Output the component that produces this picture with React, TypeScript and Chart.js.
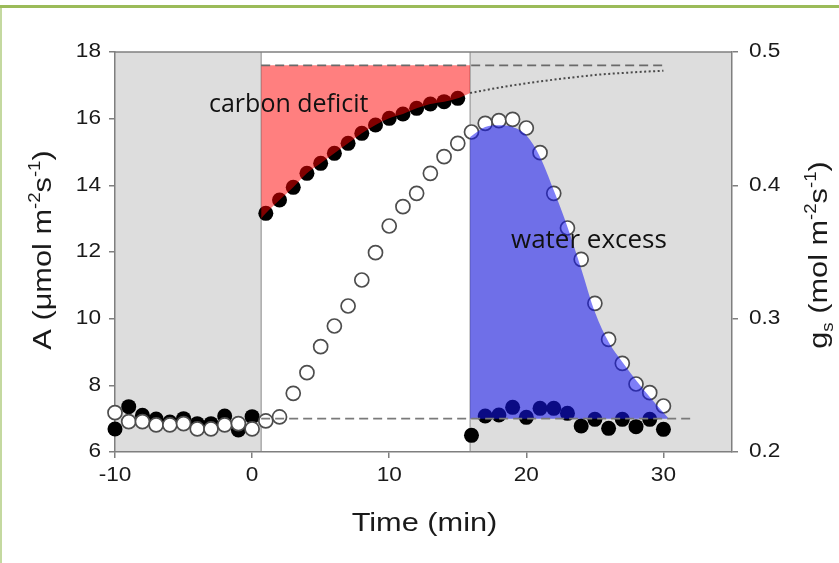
import React, { useEffect, useRef } from 'react';
import { Chart, registerables } from 'chart.js';

Chart.register(...registerables);

// ---- data ----
const timeMin = [-10, -9, -8, -7, -6, -5, -4, -3, -2, -1, 0, 1, 2, 3, 4, 5, 6, 7, 8, 9, 10, 11, 12, 13, 14, 15, 16, 17, 18, 19, 20, 21, 22, 23, 24, 25, 26, 27, 28, 29, 30];
// net assimilation A (µmol m-2 s-1), filled circles
const assimilation = [6.69, 7.36, 7.1, 6.99, 6.9, 7.0, 6.85, 6.85, 7.08, 6.66, 7.06, 13.16, 13.56, 13.94, 14.36, 14.66, 14.96, 15.26, 15.56, 15.81, 16.01, 16.14, 16.31, 16.44, 16.51, 16.61, 6.5, 7.08, 7.11, 7.34, 7.04, 7.31, 7.31, 7.16, 6.78, 6.98, 6.71, 6.98, 6.76, 6.98, 6.68];
// stomatal conductance gs (mol m-2 s-1), open circles
const conductance = [0.2295, 0.2228, 0.2228, 0.2203, 0.2203, 0.2213, 0.2173, 0.2173, 0.2203, 0.2213, 0.2173, 0.2233, 0.2263, 0.244, 0.2595, 0.279, 0.2945, 0.3095, 0.329, 0.3495, 0.3695, 0.384, 0.394, 0.409, 0.4215, 0.4315, 0.44, 0.4465, 0.4485, 0.4495, 0.443, 0.4245, 0.394, 0.368, 0.3445, 0.3115, 0.2845, 0.2665, 0.251, 0.2445, 0.2345];

const lightOnT = 0.66;
const lightOffT = 15.9;
const aSteadyState = 17.6;
const aBaseline = 7.0;
const gsBaseline = 0.225;
const steadyDashEndT = 30;
const baselineDashEndT = 32;

// fitted induction curve bounding the carbon deficit
const deficitEdgeT = [0.66, 1, 2, 3, 4, 5, 6, 7, 8, 9, 10, 11, 12, 13, 14, 15, 15.9];
const deficitEdgeA = [13.0, 13.16, 13.56, 13.94, 14.36, 14.66, 14.96, 15.26, 15.56, 15.81, 16.01, 16.14, 16.31, 16.44, 16.51, 16.61, 16.77];
// projected continuation of the induction curve (dotted)
const projectionT = [15.9, 18, 20, 22, 25, 27, 30];
const projectionA = [16.77, 16.93, 17.06, 17.17, 17.31, 17.37, 17.44];
// fitted gs decline bounding the water excess
const excessEdgeT = [15.9, 17, 18, 19, 20, 21, 22, 23, 24, 25, 26, 27, 28, 29, 30.4];
const excessEdgeGs = [0.43625, 0.44375, 0.445, 0.44375, 0.4375, 0.42125, 0.39625, 0.36875, 0.3375, 0.305, 0.2825, 0.2675, 0.25375, 0.24125, 0.225];

const xTicks = [-10, 0, 10, 20, 30];
const yTicks = [6, 8, 10, 12, 14, 16, 18];
const y1Ticks = [0.2, 0.3, 0.4, 0.5];
const y1TickLabels = ['0.2', '0.3', '0.4', '0.5'];

// ---- styling ----
const AXIS_GRAY = '#7f7f7f';
const PANEL_GRAY = '#dddddd';
const TEXT = '#1a1a1a';
const SANS = '"Liberation Sans", Arial, sans-serif';
const STRETCH = 1.16;

type Seg = { t: string; size: number; dy: number };

function drawRich(ctx: CanvasRenderingContext2D, segs: Seg[], cx: number, cy: number, rot: number, sx: number) {
  ctx.save();
  ctx.translate(cx, cy);
  ctx.rotate(rot);
  ctx.scale(sx, 1);
  ctx.fillStyle = TEXT;
  ctx.textAlign = 'left';
  ctx.textBaseline = 'alphabetic';
  let total = 0;
  const widths = segs.map((s) => {
    ctx.font = `${s.size}px ${SANS}`;
    const w = ctx.measureText(s.t).width;
    total += w;
    return w;
  });
  let x = -total / 2;
  segs.forEach((s, i) => {
    ctx.font = `${s.size}px ${SANS}`;
    ctx.fillText(s.t, x, s.dy);
    x += widths[i];
  });
  ctx.restore();
}

function drawStretched(ctx: CanvasRenderingContext2D, text: string, x: number, y: number, align: CanvasTextAlign, baseline: CanvasTextBaseline, size: number) {
  ctx.save();
  ctx.translate(x, y);
  ctx.scale(STRETCH, 1);
  ctx.font = `${size}px ${SANS}`;
  ctx.fillStyle = TEXT;
  ctx.textAlign = align;
  ctx.textBaseline = baseline;
  ctx.fillText(text, 0, 0);
  ctx.restore();
}

const backgroundPlugin = {
  id: 'panels',
  beforeDraw(chart: any) {
    const { ctx, chartArea } = chart;
    const x = chart.scales.x;
    const { top, bottom, left, right } = chartArea;
    const xOn = x.getPixelForValue(lightOnT);
    const xOff = x.getPixelForValue(lightOffT);
    ctx.save();
    ctx.fillStyle = PANEL_GRAY;
    ctx.fillRect(left, top, xOn - left, bottom - top);
    ctx.fillRect(xOff, top, right - xOff, bottom - top);
    ctx.strokeStyle = '#9a9a9a';
    ctx.lineWidth = 1.2;
    ctx.beginPath();
    ctx.moveTo(xOn, top);
    ctx.lineTo(xOn, bottom);
    ctx.moveTo(xOff, top);
    ctx.lineTo(xOff, bottom);
    ctx.stroke();
    ctx.strokeStyle = AXIS_GRAY;
    ctx.lineWidth = 1.5;
    ctx.beginPath();
    ctx.moveTo(left, top);
    ctx.lineTo(right, top);
    ctx.stroke();
    ctx.restore();
  },
};

const textPlugin = {
  id: 'texts',
  afterDraw(chart: any) {
    const { ctx, chartArea } = chart;
    const sx = chart.scales.x;
    const sy = chart.scales.y;
    const sy1 = chart.scales.y1;
    xTicks.forEach((v) => drawStretched(ctx, String(v), sx.getPixelForValue(v), 481, 'center', 'alphabetic', 19.5));
    yTicks.forEach((v) => drawStretched(ctx, String(v), chartArea.left - 14, sy.getPixelForValue(v), 'right', 'middle', 19.5));
    y1Ticks.forEach((v, i) => drawStretched(ctx, y1TickLabels[i], chartArea.right + 17, sy1.getPixelForValue(v), 'left', 'middle', 19.5));

    const cxMid = (chartArea.left + chartArea.right) / 2;
    drawRich(ctx, [{ t: 'Time (min)', size: 26.5, dy: 0 }], cxMid + 1, 531, 0, STRETCH);
    const cyMid = (chartArea.top + chartArea.bottom) / 2;
    drawRich(
      ctx,
      [
        { t: 'A (\u03bcmol m', size: 26.5, dy: 0 },
        { t: '-2', size: 16, dy: -11 },
        { t: 's', size: 26.5, dy: 0 },
        { t: '-1', size: 16, dy: -11 },
        { t: ')', size: 26.5, dy: 0 },
      ],
      51,
      cyMid - 2,
      -Math.PI / 2,
      STRETCH
    );
    drawRich(
      ctx,
      [
        { t: 'g', size: 26.5, dy: 0 },
        { t: 's', size: 16, dy: 6 },
        { t: ' (mol m', size: 26.5, dy: 0 },
        { t: '-2', size: 16, dy: -11 },
        { t: 's', size: 26.5, dy: 0 },
        { t: '-1', size: 16, dy: -11 },
        { t: ')', size: 26.5, dy: 0 },
      ],
      827,
      cyMid + 3,
      -Math.PI / 2,
      STRETCH
    );

    ctx.save();
    ctx.fillStyle = '#111111';
    ctx.textAlign = 'left';
    ctx.textBaseline = 'alphabetic';
    ctx.font = '25px "Open Sans", sans-serif';
    ctx.fillText('carbon deficit', 209, 112);
    ctx.font = '26px "Open Sans", sans-serif';
    ctx.fillText('water excess', 511, 248);
    ctx.restore();
  },
};

function fixedTicks(values: number[]) {
  return (scale: any) => {
    scale.ticks = values.map((v) => ({ value: v }));
  };
}

const gridOpts = { drawOnChartArea: false, drawTicks: true, tickLength: 6, color: AXIS_GRAY, lineWidth: 1.5 };
const borderOpts = { display: true, color: AXIS_GRAY, width: 1.5 };

export default function App() {
  const ref = useRef<HTMLCanvasElement>(null);

  useEffect(() => {
    if (!ref.current) return;
    const pts = (xs: number[], ys: number[]) => xs.map((x, i) => ({ x, y: ys[i] }));
    const chart = new Chart(ref.current, {
      type: 'line',
      data: {
        datasets: [
          {
            label: 'carbon deficit',
            data: pts(deficitEdgeT, deficitEdgeA),
            yAxisID: 'y',
            borderWidth: 0,
            borderColor: 'rgba(0,0,0,0)',
            backgroundColor: 'rgba(255,0,0,0.5)',
            pointRadius: 0,
            cubicInterpolationMode: 'monotone',
            fill: { value: aSteadyState },
            order: 0,
          },
          {
            label: 'water excess',
            data: pts(excessEdgeT, excessEdgeGs),
            yAxisID: 'y1',
            borderWidth: 0,
            borderColor: 'rgba(0,0,0,0)',
            backgroundColor: 'rgba(20,20,240,0.55)',
            pointRadius: 0,
            cubicInterpolationMode: 'monotone',
            fill: { value: gsBaseline },
            order: 0,
          },
          {
            label: 'steady state',
            data: pts([lightOnT, steadyDashEndT], [aSteadyState, aSteadyState]),
            yAxisID: 'y',
            borderColor: '#6a6a6a',
            borderWidth: 1.8,
            borderDash: [9, 5],
            pointRadius: 0,
            fill: false,
            order: -1,
          },
          {
            label: 'baseline',
            data: pts([lightOnT, baselineDashEndT], [aBaseline, aBaseline]),
            yAxisID: 'y',
            borderColor: '#7a7a7a',
            borderWidth: 1.8,
            borderDash: [9, 5],
            pointRadius: 0,
            fill: false,
            order: -1,
          },
          {
            label: 'projection',
            data: pts(projectionT, projectionA),
            yAxisID: 'y',
            borderColor: '#4a4a4a',
            borderWidth: 2,
            borderDash: [2, 2.5],
            pointRadius: 0,
            cubicInterpolationMode: 'monotone',
            fill: false,
            order: -1,
          },
          {
            label: 'gs',
            data: pts(timeMin, conductance),
            yAxisID: 'y1',
            showLine: false,
            pointRadius: 7,
            pointBackgroundColor: '#ffffff',
            pointBorderColor: '#4d4d4d',
            pointBorderWidth: 1.7,
            clip: false,
            order: 1,
          },
          {
            label: 'A',
            data: pts(timeMin, assimilation),
            yAxisID: 'y',
            showLine: false,
            pointRadius: 7.5,
            pointBackgroundColor: '#000000',
            pointBorderColor: '#000000',
            pointBorderWidth: 0,
            clip: false,
            order: 2,
          },
        ] as any,
      },
      options: {
        responsive: false,
        animation: false,
        devicePixelRatio: 1,
        events: [],
        layout: { padding: { top: 52, left: 0, right: 0, bottom: 0 } },
        plugins: { legend: { display: false }, tooltip: { enabled: false } },
        scales: {
          x: {
            type: 'linear',
            min: -10,
            max: 35,
            afterBuildTicks: fixedTicks(xTicks),
            afterFit: (s: any) => {
              s.height = 111;
            },
            ticks: { display: false },
            grid: gridOpts,
            border: borderOpts,
          },
          y: {
            type: 'linear',
            position: 'left',
            min: 6,
            max: 18,
            afterBuildTicks: fixedTicks(yTicks),
            afterFit: (s: any) => {
              s.width = 115;
            },
            ticks: { display: false },
            grid: gridOpts,
            border: borderOpts,
          },
          y1: {
            type: 'linear',
            position: 'right',
            min: 0.2,
            max: 0.5,
            afterBuildTicks: fixedTicks(y1Ticks),
            afterFit: (s: any) => {
              s.width = 107;
            },
            ticks: { display: false },
            grid: gridOpts,
            border: borderOpts,
          },
        } as any,
      },
      plugins: [backgroundPlugin, textPlugin],
    });
    return () => chart.destroy();
  }, []);

  return (
    <div style={{ position: 'absolute', left: 0, top: 0, width: 839, height: 563, background: '#ffffff', overflow: 'hidden' }}>
      <div style={{ position: 'absolute', left: 0, top: 5, width: 839, height: 3, background: '#9bbb59' }} />
      <div style={{ position: 'absolute', left: 0, top: 8, width: 2, height: 555, background: '#c4d9a0' }} />
      <canvas ref={ref} width={839} height={563} style={{ position: 'absolute', left: 0, top: 0, width: 839, height: 563 }} />
    </div>
  );
}
